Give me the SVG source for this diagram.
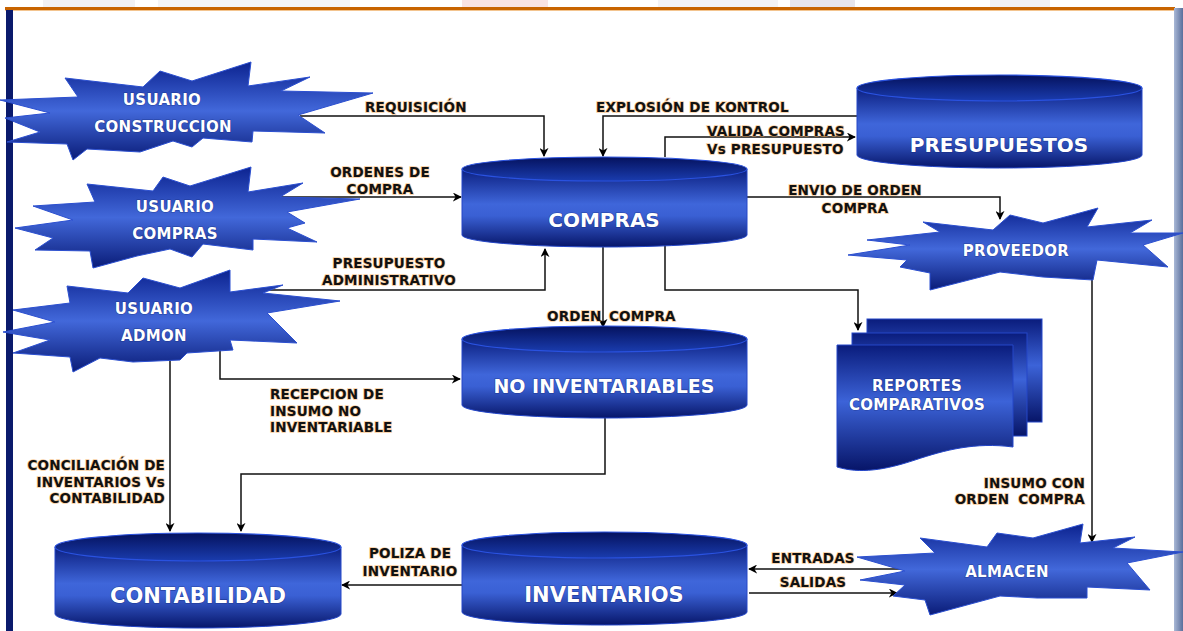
<svg xmlns="http://www.w3.org/2000/svg" width="1183" height="631" viewBox="0 0 1183 631">
  <defs>
    <linearGradient id="gBody" x1="0" y1="0" x2="0" y2="1">
      <stop offset="0" stop-color="#0b1f80"/>
      <stop offset="0.45" stop-color="#3f66da"/>
      <stop offset="0.6" stop-color="#3a60d4"/>
      <stop offset="1" stop-color="#07166a"/>
    </linearGradient>
    <linearGradient id="gTop" x1="0" y1="0" x2="0" y2="1">
      <stop offset="0" stop-color="#05125e"/>
      <stop offset="1" stop-color="#1a3cae"/>
    </linearGradient>
    <linearGradient id="gStar" x1="0" y1="0" x2="0" y2="1">
      <stop offset="0" stop-color="#0c2390"/>
      <stop offset="0.5" stop-color="#4268da"/>
      <stop offset="1" stop-color="#0a1c78"/>
    </linearGradient>
    <linearGradient id="gDoc" x1="0" y1="0" x2="0" y2="1">
      <stop offset="0" stop-color="#0a1c7c"/>
      <stop offset="0.45" stop-color="#3c63d8"/>
      <stop offset="1" stop-color="#071568"/>
    </linearGradient>
    <linearGradient id="gRight" x1="0" y1="0" x2="1" y2="0">
      <stop offset="0" stop-color="#a9b8d6"/>
      <stop offset="1" stop-color="#5a6f9c"/>
    </linearGradient>
    <marker id="arr" viewBox="0 0 10 10" refX="9" refY="5" markerWidth="9" markerHeight="9" markerUnits="userSpaceOnUse" orient="auto">
      <path d="M0,0 L10,5 L0,10 L3,5 Z" fill="#000"/>
    </marker>
    <style>
      .lbl { font-family: "DejaVu Sans", Verdana, sans-serif; font-weight: bold; font-size: 13.5px; fill: #111; stroke: #f2a24a; stroke-width: 1.6px; stroke-opacity: 0.55; paint-order: stroke; letter-spacing: 0.2px; }
      .nt { font-family: "DejaVu Sans", Verdana, sans-serif; font-weight: bold; fill: #fff; text-anchor: middle; stroke: #0d1f6e; stroke-width: 1.2px; stroke-opacity: 0.5; paint-order: stroke; }
      .big { font-size: 20px; }
      .sm { font-size: 15px; letter-spacing: 0.3px; }
      .star { fill: url(#gStar); stroke: #2b4fd0; stroke-width: 1; }
      .body { fill: url(#gBody); stroke: #2446c8; stroke-width: 1; }
      .cap { fill: url(#gTop); stroke: #2a52e0; stroke-width: 1.2; }
      .doc { fill: url(#gDoc); stroke: #2446c8; stroke-width: 1; }
      .wire { fill: none; stroke: #111; stroke-width: 1.5; }
      .mid { text-anchor: middle; }
      .end { text-anchor: end; }
    </style>
  </defs>

  <!-- page frame -->
  <rect x="0" y="0" width="1183" height="631" fill="#fff"/>
  <rect x="43" y="0" width="92" height="7" fill="#f1f1f4"/>
  <rect x="158" y="0" width="192" height="7" fill="#f4f4f6"/>
  <rect x="462" y="0" width="86" height="7" fill="#f9e3e3"/>
  <rect x="658" y="0" width="120" height="7" fill="#f3f3f6"/>
  <rect x="790" y="0" width="65" height="7" fill="#e7e5eb"/>
  <rect x="990" y="0" width="60" height="7" fill="#f1f1f4"/>
  <rect x="5" y="7" width="1170" height="3" fill="#c86400"/>
  <rect x="5" y="10" width="1170" height="1" fill="#f3c48f"/>
  <rect x="6" y="10" width="7" height="621" fill="#0a1a6c"/>
  <rect x="1174" y="8" width="9" height="623" fill="url(#gRight)"/>

  <!-- connectors -->
  <g id="connectors">
    <polyline class="wire" points="300,116 544,116 544,156" marker-end="url(#arr)"/>
    <polyline class="wire" points="857,116 603,116 603,156" marker-end="url(#arr)"/>
    <polyline class="wire" points="665,157 665,137 855,137" marker-end="url(#arr)"/>
    <polyline class="wire" points="280,197 461,197" marker-end="url(#arr)"/>
    <polyline class="wire" points="268,290 545,290 545,249" marker-end="url(#arr)"/>
    <polyline class="wire" points="747,197 1000,197 1000,219" marker-end="url(#arr)"/>
    <polyline class="wire" points="665,245 665,290 858,290 858,330" marker-end="url(#arr)"/>
    <polyline class="wire" points="603,247 603,327" marker-end="url(#arr)"/>
    <polyline class="wire" points="220,345 220,379 460,379" marker-end="url(#arr)"/>
    <polyline class="wire" points="605,418 605,474 241,474 241,531" marker-end="url(#arr)"/>
    <polyline class="wire" points="170,358 170,531" marker-end="url(#arr)"/>
    <polyline class="wire" points="462,585 342,585" marker-end="url(#arr)"/>
    <polyline class="wire" points="1092,262 1092,542" marker-end="url(#arr)"/>
    <polyline class="wire" points="903,569 749,569" marker-end="url(#arr)"/>
    <polyline class="wire" points="749,593 897,593" marker-end="url(#arr)"/>
  </g>

  <!-- connector labels -->
  <g id="labels">
    <text class="lbl" x="365" y="112">REQUISICIÓN</text>
    <text class="lbl" x="596" y="112">EXPLOSIÓN DE KONTROL</text>
    <text class="lbl" x="707" y="136">VALIDA COMPRAS</text>
    <text class="lbl" x="707" y="154">Vs PRESUPUESTO</text>
    <text class="lbl mid" x="380" y="177">ORDENES DE</text>
    <text class="lbl mid" x="380" y="194">COMPRA</text>
    <text class="lbl mid" x="389" y="268">PRESUPUESTO</text>
    <text class="lbl mid" x="389" y="285">ADMINISTRATIVO</text>
    <text class="lbl mid" x="855" y="195">ENVIO DE ORDEN</text>
    <text class="lbl mid" x="855" y="213">COMPRA</text>
    <text class="lbl" y="321"><tspan x="547">ORDEN</tspan><tspan x="609">COMPRA</tspan></text>
    <text class="lbl" x="270" y="399">RECEPCION DE</text>
    <text class="lbl" x="270" y="416">INSUMO NO</text>
    <text class="lbl" x="270" y="432">INVENTARIABLE</text>
    <text class="lbl end" x="165" y="470">CONCILIACIÓN DE</text>
    <text class="lbl end" x="165" y="487">INVENTARIOS Vs</text>
    <text class="lbl end" x="165" y="503">CONTABILIDAD</text>
    <text class="lbl mid" x="410" y="558">POLIZA DE</text>
    <text class="lbl mid" x="410" y="576">INVENTARIO</text>
    <text class="lbl end" x="1085" y="488">INSUMO CON</text>
    <text class="lbl end" x="1085" y="504"><tspan>ORDEN</tspan><tspan dx="9">COMPRA</tspan></text>
    <text class="lbl mid" x="813" y="563">ENTRADAS</text>
    <text class="lbl mid" x="813" y="587">SALIDAS</text>
  </g>

  <!-- data stores -->
  <g id="compras">
    <path class="body" d="M462,169 V235 A142.5,12 0 0 0 747,235 V169 Z"/>
    <ellipse class="cap" cx="604.5" cy="169" rx="142.5" ry="12"/>
    <text class="nt big" x="604" y="227">COMPRAS</text>
  </g>
  <g id="presupuestos">
    <path class="body" d="M857,88 V155 A142.5,13 0 0 0 1142,155 V88 Z"/>
    <ellipse class="cap" cx="999.5" cy="88" rx="142.5" ry="13"/>
    <text class="nt big" x="999" y="152">PRESUPUESTOS</text>
  </g>
  <g id="no-inventariables">
    <path class="body" d="M462,339 V405 A142.5,13 0 0 0 747,405 V339 Z"/>
    <ellipse class="cap" cx="604.5" cy="339" rx="142.5" ry="13"/>
    <text class="nt big" x="604" y="393" style="font-size:19px">NO INVENTARIABLES</text>
  </g>
  <g id="contabilidad">
    <path class="body" d="M55,547 V614 A143,14 0 0 0 341,614 V547 Z"/>
    <ellipse class="cap" cx="198" cy="547" rx="143" ry="14"/>
    <text class="nt big" x="198" y="603" style="font-size:21px">CONTABILIDAD</text>
  </g>
  <g id="inventarios">
    <path class="body" d="M462,545 V612 A142.5,13 0 0 0 747,612 V545 Z"/>
    <ellipse class="cap" cx="604.5" cy="545" rx="142.5" ry="13"/>
    <text class="nt big" x="604" y="602" style="font-size:21px">INVENTARIOS</text>
  </g>

  <!-- report stack -->
  <g id="reportes">
    <rect class="doc" x="867" y="319" width="175" height="103"/>
    <rect class="doc" x="852" y="333" width="175" height="103"/>
    <path class="doc" d="M837,345 H1013 V447 C975,442 945,450 915,460 C885,470 860,474 837,467 Z"/>
    <text class="nt sm" x="917" y="391">REPORTES</text>
    <text class="nt sm" x="917" y="410">COMPARATIVOS</text>
  </g>

  <!-- actors -->
  <g id="usuario-construccion">
    <polygon class="star" points="251,62 248,86 310,77 281,91 373,93 298,115 325,133 253,131 252,142 203,138 192,147 173,141 140,152 87,149 73,160 67,144 7,142 40,132 5,118 50,113 0,100 78,97 65,78 143,87 160,71 192,81"/>
    <text class="nt sm" x="162" y="105">USUARIO</text>
    <text class="nt sm" x="163" y="132">CONSTRUCCION</text>
  </g>
  <g id="usuario-compras">
    <polygon class="star" points="251,167 248,192 303,183 280,197 360,199 287,212 305,223 287,228 317,242 253,239 253,250 203,244 192,257 170,249 137,256 93,268 90,251 35,250 53,238 15,228 73,220 33,206 95,202 87,184 153,191 163,177 190,186"/>
    <text class="nt sm" x="175" y="212">USUARIO</text>
    <text class="nt sm" x="175" y="239">COMPRAS</text>
  </g>
  <g id="usuario-admon">
    <polygon class="star" points="230,270 230,292 283,285 263,293 340,301 267,313 297,343 230,340 233,350 187,353 180,360 133,362 100,358 73,372 70,357 13,353 50,340 3,332 55,322 13,310 70,303 67,286 128,293 143,278 180,288"/>
    <text class="nt sm" x="154" y="314">USUARIO</text>
    <text class="nt sm" x="154" y="341">ADMON</text>
  </g>
  <g id="proveedor">
    <polygon class="star" points="1098,208 1087,227 1152,220 1130,233 1183,233 1143,245 1168,267 1097,260 1093,280 1043,277 1000,272 930,290 930,273 900,267 907,260 848,255 910,245 867,240 940,232 923,222 993,230 1010,215 1043,223"/>
    <text class="nt sm" x="1016" y="256">PROVEEDOR</text>
  </g>
  <g id="almacen">
    <polygon class="star" points="1083,524 1080,543 1135,537 1113,548 1183,552 1127,563 1150,590 1087,587 1087,598 1037,598 1000,596 930,615 925,600 893,596 905,585 860,580 905,571 857,557 935,553 920,538 987,547 997,533 1033,538"/>
    <text class="nt sm" x="1007" y="577">ALMACEN</text>
  </g>
</svg>
